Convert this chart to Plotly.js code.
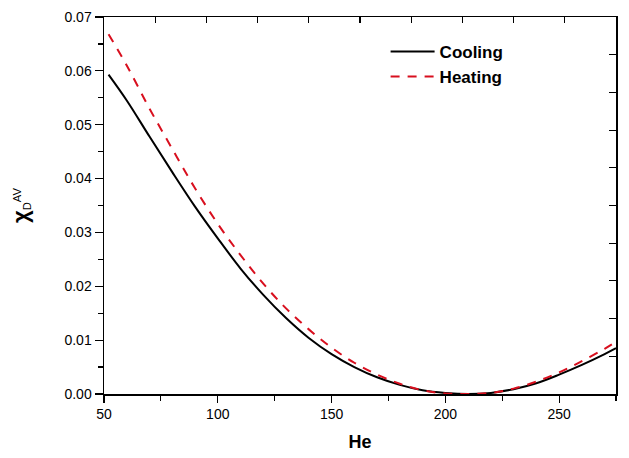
<!DOCTYPE html>
<html>
<head>
<meta charset="utf-8">
<script src="https://cdn.plot.ly/plotly-3.0.1.min.js"></script>
<style>
  html, body { margin: 0; padding: 0; background: #fff; }
  #chart { width: 629px; height: 458px; }
</style>
</head>
<body>
<div id="chart"></div>
<script>
// field values (He)
const heField = [52, 60, 70, 80, 90, 100, 110, 120, 130, 140, 150, 160, 170,
                 180, 190, 200, 210, 220, 230, 240, 250, 260, 270, 275];

const coolingChi = [0.0593, 0.0545, 0.0478, 0.0412, 0.0348, 0.0289, 0.0233, 0.0184,
                    0.0141, 0.0104, 0.0074, 0.0050, 0.0031, 0.0017, 0.0007, 0.0002,
                    0.0000, 0.0002, 0.0009, 0.0020, 0.0036, 0.0054, 0.0074, 0.0085];

const heatingChi = [0.0668, 0.0610, 0.0530, 0.0455, 0.0382, 0.0316, 0.0258, 0.0205,
                    0.0159, 0.0120, 0.0086, 0.0058, 0.0036, 0.0019, 0.0007, 0.0001,
                    0.0000, 0.0002, 0.0010, 0.0023, 0.0040, 0.0061, 0.0084, 0.0097];

const xTicks = [50, 100, 150, 200, 250];
const yTicks = [0, 0.01, 0.02, 0.03, 0.04, 0.05, 0.06, 0.07];

const FONT = 'Arial, "Liberation Sans", sans-serif';

const traceCooling = {
  x: heField,
  y: coolingChi,
  mode: 'lines',
  name: '<b>Cooling</b>',
  line: { color: '#000000', width: 2, shape: 'spline' }
};

const traceHeating = {
  x: heField,
  y: heatingChi,
  mode: 'lines',
  name: '<b>Heating</b>',
  line: { color: '#d80f1e', width: 2, dash: '9px,8px', shape: 'spline' }
};

// empty trace so the top/right frame axes get drawn
const frameTrace = {
  x: [], y: [], xaxis: 'x2', yaxis: 'y2',
  mode: 'lines', showlegend: false, hoverinfo: 'skip'
};

const layout = {
  width: 629,
  height: 458,
  margin: { l: 104, r: 13, t: 17, b: 64 },
  paper_bgcolor: '#ffffff',
  plot_bgcolor: '#ffffff',
  font: { family: FONT, color: '#000', size: 14 },
  showlegend: true,
  legend: {
    x: 0.55, y: 0.955, xanchor: 'left', yanchor: 'top',
    bgcolor: 'rgba(0,0,0,0)',
    itemwidth: 44,
    font: { family: FONT, size: 17, color: '#000' },
    tracegroupgap: 0
  },
  xaxis: {
    range: [50, 275],
    tickvals: xTicks,
    ticktext: xTicks.map(String),
    ticks: 'outside', ticklen: 7, tickwidth: 1.2, tickcolor: '#000',
    minor: { ticks: 'outside', dtick: 25, tick0: 50, ticklen: 5, tickwidth: 1.2, tickcolor: '#000' },
    showline: true, linecolor: '#000', linewidth: 1.5,
    showgrid: false, zeroline: false,
    tickfont: { family: FONT, size: 14, color: '#000' },
    title: { text: '<b>He</b>', font: { family: FONT, size: 18, color: '#000' }, standoff: 14 }
  },
  yaxis: {
    range: [0, 0.07],
    tickvals: yTicks,
    ticktext: yTicks.map(v => v.toFixed(2)),
    ticks: 'outside', ticklen: 8, tickwidth: 1.2, tickcolor: '#000',
    minor: { ticks: 'outside', dtick: 0.005, tick0: 0, ticklen: 5, tickwidth: 1.2, tickcolor: '#000' },
    showline: true, linecolor: '#000', linewidth: 1.5,
    showgrid: false, zeroline: false,
    tickfont: { family: FONT, size: 14, color: '#000' },
    title: {
      text: '<b><span style="font-size:22px">χ</span></b><sub>D</sub><sup>AV</sup>',
      font: { family: FONT, size: 16, color: '#000' },
      standoff: 32
    }
  },
  xaxis2: {
    overlaying: 'x', side: 'top', anchor: 'y2',
    range: [50, 275], tick0: 50, dtick: 22.5,
    ticks: 'inside', ticklen: 6, tickwidth: 1.2, tickcolor: '#000',
    showticklabels: false, showline: true, linecolor: '#000', linewidth: 1.5,
    showgrid: false, zeroline: false
  },
  yaxis2: {
    overlaying: 'y', side: 'right', anchor: 'x2',
    range: [0, 0.07], tick0: 0, dtick: 0.007,
    ticks: 'inside', ticklen: 7, tickwidth: 1.2, tickcolor: '#000',
    showticklabels: false, showline: true, linecolor: '#000', linewidth: 1.5,
    showgrid: false, zeroline: false
  }
};

Plotly.newPlot('chart', [traceCooling, traceHeating, frameTrace], layout,
  { staticPlot: true, displayModeBar: false });
</script>
</body>
</html>
